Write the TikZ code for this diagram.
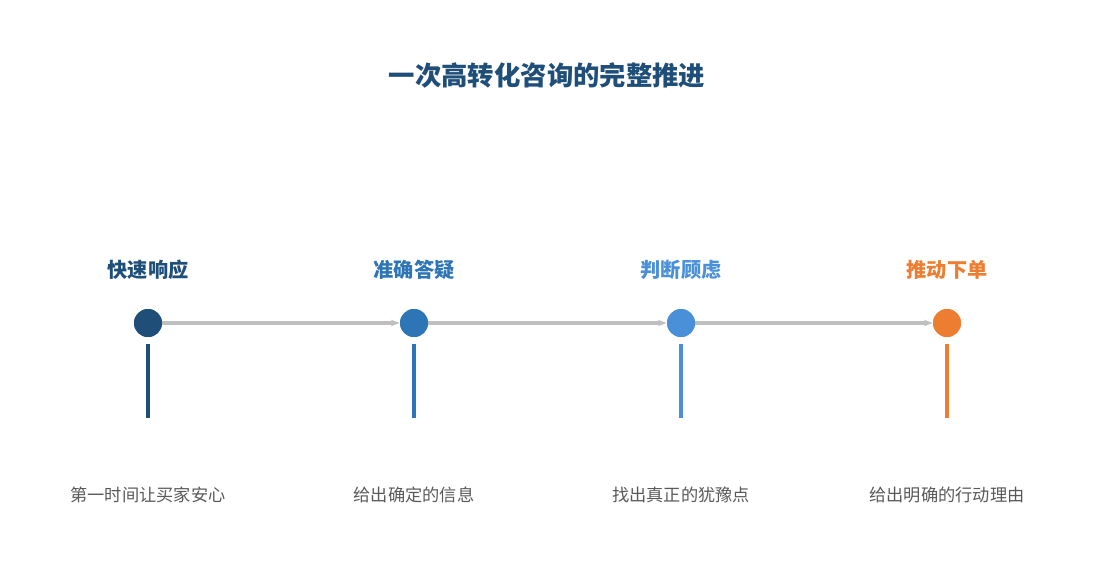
\documentclass[tikz,border=0pt]{standalone}
\usepackage{fontspec}
\setmainfont{Noto Sans CJK SC}
\usetikzlibrary{arrows.meta}
\definecolor{cA}{HTML}{1F4E79}
\definecolor{cB}{HTML}{2E75B6}
\definecolor{cC}{HTML}{4A90D9}
\definecolor{cD}{HTML}{ED7D31}
\definecolor{cLine}{HTML}{BFBFBF}
\definecolor{cText}{HTML}{595959}
\begin{document}
\begin{tikzpicture}[x=0.02cm, y=-0.02cm,
  dot/.style={shape=circle, fill=#1, minimum size=0.56cm, inner sep=0pt},
  step/.style={font=\fontsize{11.5pt}{13pt}\selectfont\bfseries, text=#1},
  note/.style={font=\fontsize{9.8pt}{12pt}\selectfont, text=cText},
  stem/.style={line width=2.2pt, draw=#1},
  link/.style={->, >={Stealth[length=5pt]}, draw=cLine, line width=1.8pt}]
\useasboundingbox (0,0) rectangle (1095,585);
\node [font=\fontsize{15pt}{18pt}\selectfont\bfseries, text=cA] (title) at (547,75) {一次高转化咨询的完整推进};

\node [dot=cA] (N1) at (148,323) {};
\node [dot=cB] (N2) at (414,323) {};
\node [dot=cC] (N3) at (681,323) {};
\node [dot=cD] (N4) at (947,323) {};

\node [step=cA] (S1) at (148,270) {快速响应};
\node [step=cB] (S2) at (414,270) {准确答疑};
\node [step=cC] (S3) at (681,270) {判断顾虑};
\node [step=cD] (S4) at (947,270) {推动下单};

\node [note] (T1) at (148,495) {第一时间让买家安心};
\node [note] (T2) at (414,495) {给出确定的信息};
\node [note] (T3) at (681,495) {找出真正的犹豫点};
\node [note] (T4) at (947,495) {给出明确的行动理由};

\coordinate (A1) at (148,344); \coordinate (B1) at (148,418);
\coordinate (A2) at (414,344); \coordinate (B2) at (414,418);
\coordinate (A3) at (681,344); \coordinate (B3) at (681,418);
\coordinate (A4) at (947,344); \coordinate (B4) at (947,418);

\begin{scope}[on background layer/.style={}]
\draw [link] (N1) -- (N2);
\draw [link] (N2) -- (N3);
\draw [link] (N3) -- (N4);
\end{scope}
\node [dot=cA] at (N1) {};
\node [dot=cB] at (N2) {};
\node [dot=cC] at (N3) {};
\node [dot=cD] at (N4) {};

\draw [stem=cA] (A1) -- (B1);
\draw [stem=cB] (A2) -- (B2);
\draw [stem=cC] (A3) -- (B3);
\draw [stem=cD] (A4) -- (B4);
\end{tikzpicture}
\end{document}
